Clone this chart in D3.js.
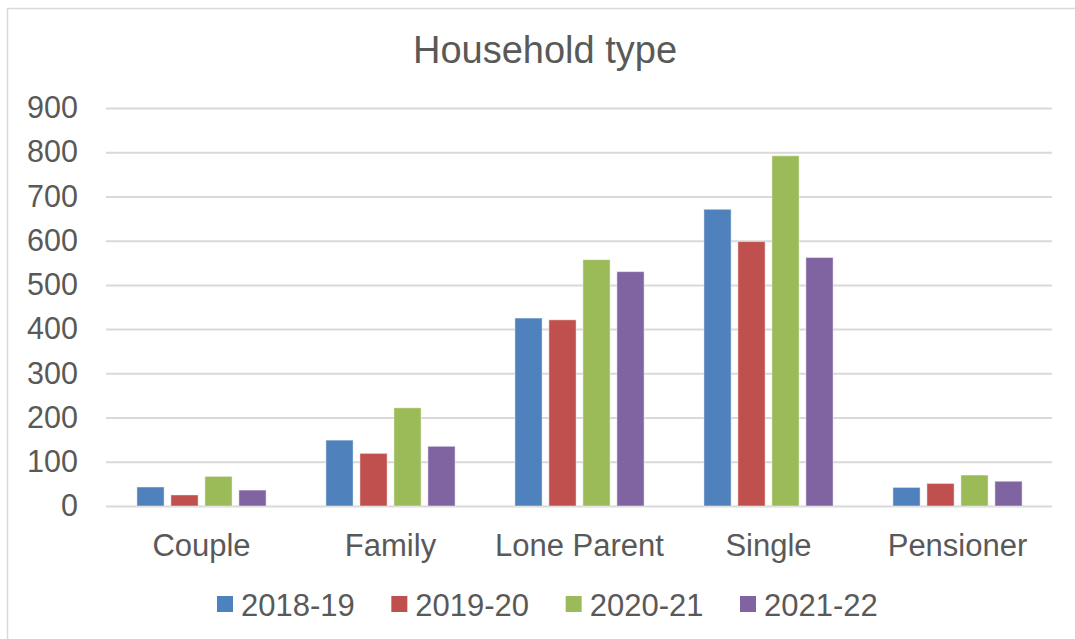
<!DOCTYPE html>
<html lang="en">
<head>
    <meta charset="UTF-8">
    <title>Household type</title>
    <script src="https://d3js.org/d3.v7.min.js"></script>
    <style>
      body { margin: 0; background: #fff; }
      text { font-family: "Liberation Sans", Arial, sans-serif; fill: #595959; }
    </style>
</head>
<body>
    <div id="my_dataviz"></div>
    <script>

    // data
    const categories = ["Couple", "Family", "Lone Parent", "Single", "Pensioner"]
    const seriesNames = ["2018-19", "2019-20", "2020-21", "2021-22"]
    const values2018 = [43, 149, 425, 671, 42]
    const values2019 = [25, 119, 421, 598, 51]
    const values2020 = [67, 222, 557, 792, 70]
    const values2021 = [36, 135, 530, 562, 56]
    const yTicks = [0, 100, 200, 300, 400, 500, 600, 700, 800, 900]
    const colors = ["#4F81BD", "#C0504D", "#9BBB59", "#8064A2"]

    const allSeries = [values2018, values2019, values2020, values2021]

    const W = 1075, H = 639
    const margin = {top: 108, right: 23, bottom: 133, left: 107}

    const svg = d3.select("#my_dataviz")
      .append("svg")
        .attr("width", W)
        .attr("height", H)

    // chart frame (right and bottom edges fall outside the image)
    svg.append("rect")
      .attr("x", 7.5).attr("y", 8.5)
      .attr("width", W + 20).attr("height", H + 20)
      .attr("fill", "#fff")
      .attr("stroke", "#d9d9d9")
      .attr("stroke-width", 1.5)

    // scales
    const x0 = d3.scaleBand()
      .domain(categories)
      .range([margin.left, W - margin.right])

    const x1 = d3.scaleBand()
      .domain(seriesNames)
      .range([0, x0.bandwidth()])
      .paddingInner(0.2)
      .paddingOuter(0.88)

    const y = d3.scaleLinear()
      .domain([0, 900])
      .range([H - margin.bottom, margin.top])

    // gridlines + y labels
    const yAxis = svg.append("g")
      .attr("transform", `translate(${margin.left - 1},0)`)
      .call(d3.axisLeft(y).tickValues(yTicks)
        .tickSize(-(W - margin.right - margin.left + 1))
        .tickPadding(28))
    yAxis.select(".domain").remove()
    yAxis.selectAll(".tick line")
      .attr("stroke", "#d9d9d9")
      .attr("stroke-width", 2)
    yAxis.selectAll(".tick text")
      .style("font-size", "30.5px")
      .attr("fill", "#595959")

    // bars
    const rows = categories.map((c, i) => ({
      cat: c,
      vals: seriesNames.map((s, j) => ({ s: s, v: allSeries[j][i], color: colors[j] }))
    }))

    svg.append("g")
      .selectAll("g")
      .data(rows)
      .join("g")
        .attr("transform", d => `translate(${x0(d.cat)},0)`)
      .selectAll("rect")
      .data(d => d.vals)
      .join("rect")
        .attr("x", d => x1(d.s))
        .attr("y", d => y(d.v))
        .attr("width", x1.bandwidth())
        .attr("height", d => y(0) - y(d.v))
        .attr("fill", d => d.color)
        .attr("stroke", "#fff")
        .attr("stroke-opacity", 0.45)
        .attr("stroke-width", 1)

    // category labels
    const xAxis = svg.append("g")
      .attr("transform", `translate(0,${H - margin.bottom})`)
      .call(d3.axisBottom(x0).tickSize(0).tickPadding(28))
    xAxis.select(".domain").remove()
    xAxis.selectAll(".tick text")
      .style("font-size", "31px")
      .attr("fill", "#595959")

    // title
    svg.append("text")
      .attr("x", 545)
      .attr("y", 63)
      .attr("text-anchor", "middle")
      .style("font-size", "38px")
      .text("Household type")

    // legend
    const legendX = d3.scaleLinear().domain([0, seriesNames.length - 1]).range([217, 740])
    const legend = svg.append("g")
      .selectAll("g")
      .data(seriesNames)
      .join("g")
        .attr("transform", (d, i) => `translate(${legendX(i)},0)`)
    legend.append("rect")
      .attr("x", 0).attr("y", 596)
      .attr("width", 16).attr("height", 16)
      .attr("fill", (d, i) => colors[i])
    legend.append("text")
      .attr("x", 24).attr("y", 616)
      .style("font-size", "31px")
      .text(d => d)

  </script>
</body>
</html>
